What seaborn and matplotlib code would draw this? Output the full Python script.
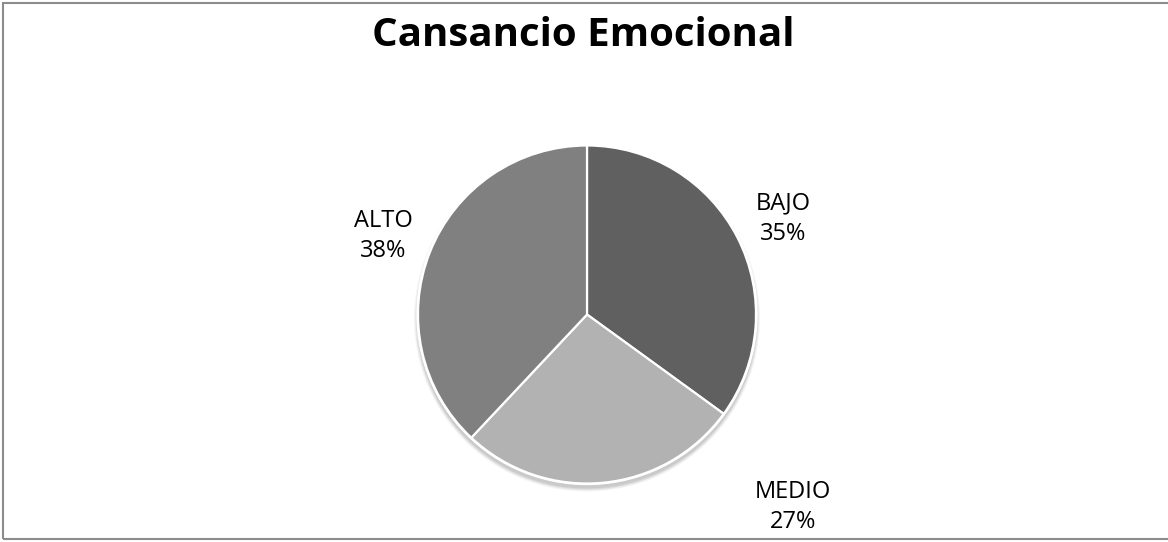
import matplotlib
matplotlib.use("Agg")
import matplotlib.pyplot as plt
from matplotlib.patches import Circle, Rectangle
import seaborn as sns

# Data
categories = ["BAJO", "MEDIO", "ALTO"]
percentages = [35, 27, 38]
slice_colors = ["#606060", "#b2b2b2", "#808080"]
title_text = "Cansancio Emocional"

sns.set_theme(style="white")
plt.rcParams["font.family"] = ["Open Sans", "DejaVu Sans"]

W, H = 1168, 542
fig = plt.figure(figsize=(W / 100, H / 100), dpi=100)
fig.patch.set_facecolor("white")

# Axes in pixel units covering the whole figure
ax = fig.add_axes([0, 0, 1, 1])

cx, cy, r = 587, H - 314.5, 169

# soft drop shadow below the pie
for k, a in enumerate([0.04, 0.05, 0.06, 0.07]):
    ax.add_patch(Circle((cx, cy - 4), r + 4 - k, facecolor="#000000",
                        alpha=a, edgecolor="none", zorder=0))

wedges, _ = ax.pie(
    percentages,
    colors=slice_colors,
    startangle=90,
    counterclock=False,
    center=(cx, cy),
    radius=r,
    wedgeprops=dict(edgecolor="white", linewidth=1.6),
)
for w in wedges:
    w.set_zorder(2)
ax.add_patch(Circle((cx, cy), r + 0.8, facecolor="none", edgecolor="white",
                    linewidth=1.2, zorder=3))

ax.set_xlim(0, W)
ax.set_ylim(0, H)
ax.set_aspect("equal")
ax.axis("off")

# data labels
label_xy = [(783, 219), (793, 507), (383, 236)]
for name, pct, (lx, ly) in zip(categories, percentages, label_xy):
    ax.text(lx, H - ly, f"{name}\n{pct}%", ha="center", va="center",
            fontsize=17, color="black", linespacing=1.38, zorder=4)

fig.text(583 / W, 1 - 36 / H, title_text, ha="center", va="center",
         fontsize=29, fontweight="bold", color="black")

# chart area border
fig.patches.append(Rectangle((3 / W, 3 / H), 1.2, (H - 6) / H,
                             transform=fig.transFigure, fill=False,
                             edgecolor="#8c8c8c", linewidth=1.5))

fig.savefig("out.png", dpi=100, facecolor="white")
